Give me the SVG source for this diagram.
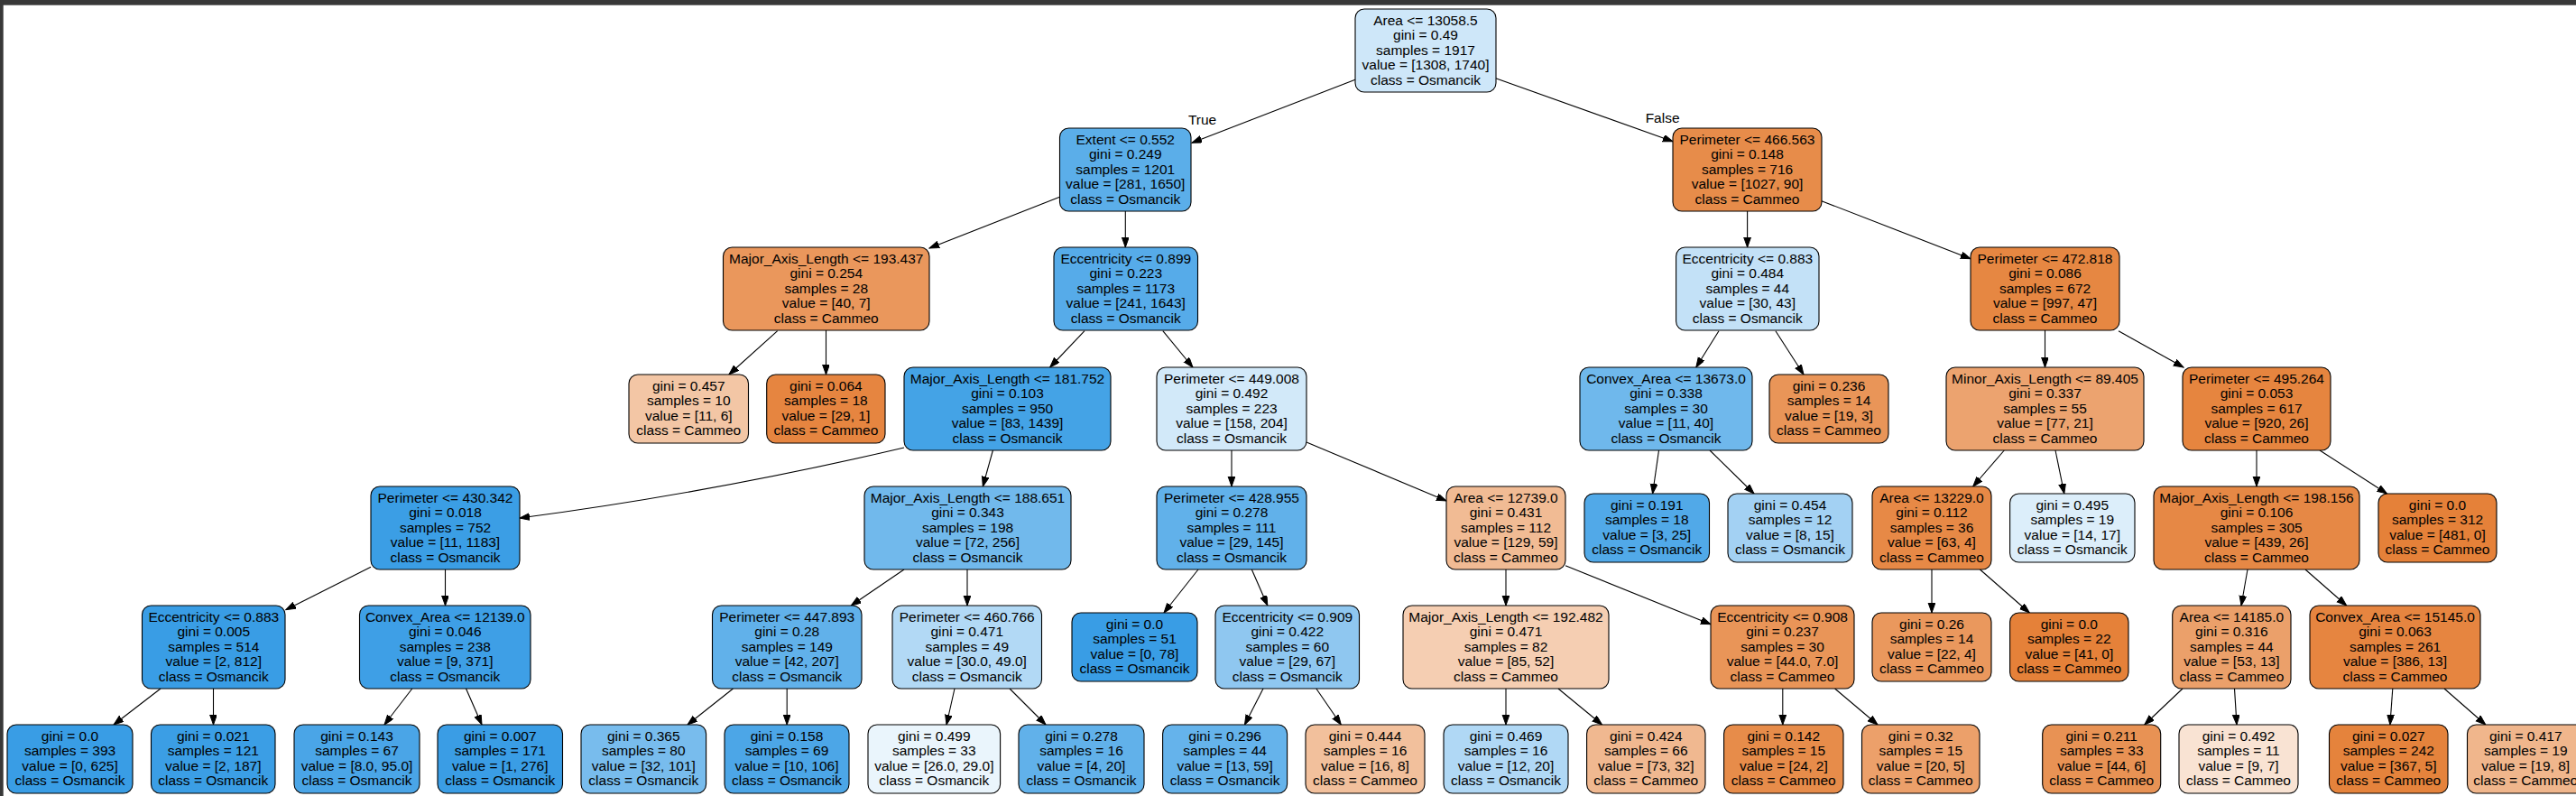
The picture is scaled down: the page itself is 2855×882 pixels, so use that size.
<svg xmlns="http://www.w3.org/2000/svg" width="2855" height="882" viewBox="0 0 2855 882">
<defs>
<style>
.nd rect{stroke:#000;stroke-width:1.1}
text{font-family:"Liberation Sans",Arial,sans-serif;font-size:15.5px;text-anchor:middle;fill:#000}
.ed path{fill:none;stroke:#000;stroke-width:1.1;marker-end:url(#ah)}
</style>
<marker id="ah" markerUnits="userSpaceOnUse" markerWidth="12" markerHeight="9" refX="11" refY="3.9" orient="auto"><path d="M0,0 L11,3.9 L0,7.8 z" fill="#000" stroke="#000" stroke-width="1"/></marker>
</defs>
<rect x="0" y="0" width="2855" height="882" fill="#fff"/>
<rect x="0" y="0" width="2855" height="5.7" fill="#383838"/>
<rect x="0" y="0" width="3.7" height="882" fill="#383838"/>
<g id="connectors" class="ed">
<path d="M1502,88.3 L1321,158.3"/>
<path d="M1657.7,86.7 L1854,156.7"/>
<path d="M1174.5,218.3 L1030,275"/>
<path d="M1247.3,234 L1247.3,274"/>
<path d="M861.7,366.7 L807.9,415"/>
<path d="M915.5,366 L915.5,415"/>
<path d="M1202,366.7 L1163.7,407"/>
<path d="M1288.8,366.7 L1322,407"/>
<path d="M1936.6,234 L1936.6,274"/>
<path d="M2018.9,222.7 L2184,286.7"/>
<path d="M1905,366.7 L1879.8,407"/>
<path d="M1967.9,366.7 L1999,415"/>
<path d="M2266.5,366 L2266.5,407"/>
<path d="M2348,366.7 L2420,407"/>
<path d="M1002,496 Q789,546 576,574"/>
<path d="M1100.4,499 L1089.3,539"/>
<path d="M1365,499 L1365,539"/>
<path d="M1448,490 L1603,555"/>
<path d="M1838.5,499 L1831.6,547"/>
<path d="M1895,499 L1944,547"/>
<path d="M2221.3,499 L2186.7,539"/>
<path d="M2278,499 L2287.8,547"/>
<path d="M2501,499 L2501,539"/>
<path d="M2571,499 L2645.5,547"/>
<path d="M411,628.3 L316.8,675.7"/>
<path d="M493.5,631 L493.5,671"/>
<path d="M1002,631 L943.3,671"/>
<path d="M1072,631 L1072,671"/>
<path d="M1328,631 L1290,679"/>
<path d="M1387.3,631 L1404.8,671"/>
<path d="M1669,631 L1669,671"/>
<path d="M1735,626.7 L1896,691.7"/>
<path d="M2141,631 L2141,679"/>
<path d="M2194.4,631 L2249.3,679"/>
<path d="M2491,631 L2484,671"/>
<path d="M2555,631 L2600.7,671"/>
<path d="M178,763 L126,803"/>
<path d="M236.5,763 L236.5,803"/>
<path d="M456.8,763 L426,803"/>
<path d="M516.5,763 L534,803"/>
<path d="M812.5,763 L762,803"/>
<path d="M872.2,763 L872.2,803"/>
<path d="M1058,763 L1049,803"/>
<path d="M1119,763 L1159,803"/>
<path d="M1400,763 L1379.5,803"/>
<path d="M1458.8,763 L1486.3,803"/>
<path d="M1669,763 L1669,803"/>
<path d="M1727,763 L1775.6,803"/>
<path d="M1975.8,763 L1975.8,803"/>
<path d="M2033.6,763 L2081,803"/>
<path d="M2419,763 L2376.8,803"/>
<path d="M2476.5,763 L2479,803"/>
<path d="M2651.8,763 L2648.9,803"/>
<path d="M2709,763 L2754.8,803"/>
<text x="1332.6" y="138">True</text>
<text x="1842.6" y="136">False</text>
</g>
<g id="n0" class="nd"><rect x="1502" y="10" width="156" height="92" rx="10" fill="#cee7f9"/><text x="1580" y="27.5"><tspan x="1580">Area &lt;= 13058.5</tspan><tspan x="1580" dy="16.6">gini = 0.49</tspan><tspan x="1580" dy="16.6">samples = 1917</tspan><tspan x="1580" dy="16.6">value = [1308, 1740]</tspan><tspan x="1580" dy="16.6">class = Osmancik</tspan></text></g>
<g id="n1" class="nd"><rect x="1174.5" y="142" width="145.5" height="92" rx="10" fill="#5baee9"/><text x="1247.25" y="159.5"><tspan x="1247.25">Extent &lt;= 0.552</tspan><tspan x="1247.25" dy="16.6">gini = 0.249</tspan><tspan x="1247.25" dy="16.6">samples = 1201</tspan><tspan x="1247.25" dy="16.6">value = [281, 1650]</tspan><tspan x="1247.25" dy="16.6">class = Osmancik</tspan></text></g>
<g id="n34" class="nd"><rect x="1854" y="142" width="165" height="92" rx="10" fill="#e78c4a"/><text x="1936.5" y="159.5"><tspan x="1936.5">Perimeter &lt;= 466.563</tspan><tspan x="1936.5" dy="16.6">gini = 0.148</tspan><tspan x="1936.5" dy="16.6">samples = 716</tspan><tspan x="1936.5" dy="16.6">value = [1027, 90]</tspan><tspan x="1936.5" dy="16.6">class = Cammeo</tspan></text></g>
<g id="n2" class="nd"><rect x="801.5" y="274" width="228.5" height="92" rx="10" fill="#ea975c"/><text x="915.75" y="291.5"><tspan x="915.75">Major_Axis_Length &lt;= 193.437</tspan><tspan x="915.75" dy="16.6">gini = 0.254</tspan><tspan x="915.75" dy="16.6">samples = 28</tspan><tspan x="915.75" dy="16.6">value = [40, 7]</tspan><tspan x="915.75" dy="16.6">class = Cammeo</tspan></text></g>
<g id="n5" class="nd"><rect x="1168" y="274" width="159.5" height="92" rx="10" fill="#56abe9"/><text x="1247.75" y="291.5"><tspan x="1247.75">Eccentricity &lt;= 0.899</tspan><tspan x="1247.75" dy="16.6">gini = 0.223</tspan><tspan x="1247.75" dy="16.6">samples = 1173</tspan><tspan x="1247.75" dy="16.6">value = [241, 1643]</tspan><tspan x="1247.75" dy="16.6">class = Osmancik</tspan></text></g>
<g id="n35" class="nd"><rect x="1857.6" y="274" width="158.4" height="92" rx="10" fill="#c3e1f7"/><text x="1936.8" y="291.5"><tspan x="1936.8">Eccentricity &lt;= 0.883</tspan><tspan x="1936.8" dy="16.6">gini = 0.484</tspan><tspan x="1936.8" dy="16.6">samples = 44</tspan><tspan x="1936.8" dy="16.6">value = [30, 43]</tspan><tspan x="1936.8" dy="16.6">class = Osmancik</tspan></text></g>
<g id="n40" class="nd"><rect x="2184" y="274" width="165" height="92" rx="10" fill="#e68742"/><text x="2266.5" y="291.5"><tspan x="2266.5">Perimeter &lt;= 472.818</tspan><tspan x="2266.5" dy="16.6">gini = 0.086</tspan><tspan x="2266.5" dy="16.6">samples = 672</tspan><tspan x="2266.5" dy="16.6">value = [997, 47]</tspan><tspan x="2266.5" dy="16.6">class = Cammeo</tspan></text></g>
<g id="n3" class="nd"><rect x="697" y="415" width="132.5" height="76" rx="10" fill="#f3c6a5"/><text x="763.25" y="432.5"><tspan x="763.25">gini = 0.457</tspan><tspan x="763.25" dy="16.6">samples = 10</tspan><tspan x="763.25" dy="16.6">value = [11, 6]</tspan><tspan x="763.25" dy="16.6">class = Cammeo</tspan></text></g>
<g id="n4" class="nd"><rect x="849.7" y="415" width="131.3" height="76" rx="10" fill="#e68540"/><text x="915.35" y="432.5"><tspan x="915.35">gini = 0.064</tspan><tspan x="915.35" dy="16.6">samples = 18</tspan><tspan x="915.35" dy="16.6">value = [29, 1]</tspan><tspan x="915.35" dy="16.6">class = Cammeo</tspan></text></g>
<g id="n6" class="nd"><rect x="1002" y="407" width="229" height="92" rx="10" fill="#44a3e6"/><text x="1116.5" y="424.5"><tspan x="1116.5">Major_Axis_Length &lt;= 181.752</tspan><tspan x="1116.5" dy="16.6">gini = 0.103</tspan><tspan x="1116.5" dy="16.6">samples = 950</tspan><tspan x="1116.5" dy="16.6">value = [83, 1439]</tspan><tspan x="1116.5" dy="16.6">class = Osmancik</tspan></text></g>
<g id="n21" class="nd"><rect x="1282" y="407" width="166" height="92" rx="10" fill="#d2e9f9"/><text x="1365" y="424.5"><tspan x="1365">Perimeter &lt;= 449.008</tspan><tspan x="1365" dy="16.6">gini = 0.492</tspan><tspan x="1365" dy="16.6">samples = 223</tspan><tspan x="1365" dy="16.6">value = [158, 204]</tspan><tspan x="1365" dy="16.6">class = Osmancik</tspan></text></g>
<g id="n36" class="nd"><rect x="1751" y="407" width="191" height="92" rx="10" fill="#6fb8ec"/><text x="1846.5" y="424.5"><tspan x="1846.5">Convex_Area &lt;= 13673.0</tspan><tspan x="1846.5" dy="16.6">gini = 0.338</tspan><tspan x="1846.5" dy="16.6">samples = 30</tspan><tspan x="1846.5" dy="16.6">value = [11, 40]</tspan><tspan x="1846.5" dy="16.6">class = Osmancik</tspan></text></g>
<g id="n39" class="nd"><rect x="1961" y="415" width="132" height="76" rx="10" fill="#e99558"/><text x="2027" y="432.5"><tspan x="2027">gini = 0.236</tspan><tspan x="2027" dy="16.6">samples = 14</tspan><tspan x="2027" dy="16.6">value = [19, 3]</tspan><tspan x="2027" dy="16.6">class = Cammeo</tspan></text></g>
<g id="n41" class="nd"><rect x="2157" y="407" width="219" height="92" rx="10" fill="#eca36f"/><text x="2266.5" y="424.5"><tspan x="2266.5">Minor_Axis_Length &lt;= 89.405</tspan><tspan x="2266.5" dy="16.6">gini = 0.337</tspan><tspan x="2266.5" dy="16.6">samples = 55</tspan><tspan x="2266.5" dy="16.6">value = [77, 21]</tspan><tspan x="2266.5" dy="16.6">class = Cammeo</tspan></text></g>
<g id="n46" class="nd"><rect x="2419" y="407" width="164" height="92" rx="10" fill="#e6853f"/><text x="2501" y="424.5"><tspan x="2501">Perimeter &lt;= 495.264</tspan><tspan x="2501" dy="16.6">gini = 0.053</tspan><tspan x="2501" dy="16.6">samples = 617</tspan><tspan x="2501" dy="16.6">value = [920, 26]</tspan><tspan x="2501" dy="16.6">class = Cammeo</tspan></text></g>
<g id="n7" class="nd"><rect x="411" y="539" width="165" height="92" rx="10" fill="#3b9ee5"/><text x="493.5" y="556.5"><tspan x="493.5">Perimeter &lt;= 430.342</tspan><tspan x="493.5" dy="16.6">gini = 0.018</tspan><tspan x="493.5" dy="16.6">samples = 752</tspan><tspan x="493.5" dy="16.6">value = [11, 1183]</tspan><tspan x="493.5" dy="16.6">class = Osmancik</tspan></text></g>
<g id="n14" class="nd"><rect x="958" y="539" width="229" height="92" rx="10" fill="#71b9ec"/><text x="1072.5" y="556.5"><tspan x="1072.5">Major_Axis_Length &lt;= 188.651</tspan><tspan x="1072.5" dy="16.6">gini = 0.343</tspan><tspan x="1072.5" dy="16.6">samples = 198</tspan><tspan x="1072.5" dy="16.6">value = [72, 256]</tspan><tspan x="1072.5" dy="16.6">class = Osmancik</tspan></text></g>
<g id="n22" class="nd"><rect x="1282" y="539" width="166" height="92" rx="10" fill="#61b1ea"/><text x="1365" y="556.5"><tspan x="1365">Perimeter &lt;= 428.955</tspan><tspan x="1365" dy="16.6">gini = 0.278</tspan><tspan x="1365" dy="16.6">samples = 111</tspan><tspan x="1365" dy="16.6">value = [29, 145]</tspan><tspan x="1365" dy="16.6">class = Osmancik</tspan></text></g>
<g id="n27" class="nd"><rect x="1603" y="539" width="132" height="92" rx="10" fill="#f1bb94"/><text x="1669" y="556.5"><tspan x="1669">Area &lt;= 12739.0</tspan><tspan x="1669" dy="16.6">gini = 0.431</tspan><tspan x="1669" dy="16.6">samples = 112</tspan><tspan x="1669" dy="16.6">value = [129, 59]</tspan><tspan x="1669" dy="16.6">class = Cammeo</tspan></text></g>
<g id="n37" class="nd"><rect x="1756" y="547" width="138.5" height="76" rx="10" fill="#51a9e8"/><text x="1825.25" y="564.5"><tspan x="1825.25">gini = 0.191</tspan><tspan x="1825.25" dy="16.6">samples = 18</tspan><tspan x="1825.25" dy="16.6">value = [3, 25]</tspan><tspan x="1825.25" dy="16.6">class = Osmancik</tspan></text></g>
<g id="n38" class="nd"><rect x="1915" y="547" width="138" height="76" rx="10" fill="#a3d1f3"/><text x="1984" y="564.5"><tspan x="1984">gini = 0.454</tspan><tspan x="1984" dy="16.6">samples = 12</tspan><tspan x="1984" dy="16.6">value = [8, 15]</tspan><tspan x="1984" dy="16.6">class = Osmancik</tspan></text></g>
<g id="n42" class="nd"><rect x="2075" y="539" width="132" height="92" rx="10" fill="#e78946"/><text x="2141" y="556.5"><tspan x="2141">Area &lt;= 13229.0</tspan><tspan x="2141" dy="16.6">gini = 0.112</tspan><tspan x="2141" dy="16.6">samples = 36</tspan><tspan x="2141" dy="16.6">value = [63, 4]</tspan><tspan x="2141" dy="16.6">class = Cammeo</tspan></text></g>
<g id="n45" class="nd"><rect x="2227.6" y="547" width="138.4" height="76" rx="10" fill="#dceefa"/><text x="2296.8" y="564.5"><tspan x="2296.8">gini = 0.495</tspan><tspan x="2296.8" dy="16.6">samples = 19</tspan><tspan x="2296.8" dy="16.6">value = [14, 17]</tspan><tspan x="2296.8" dy="16.6">class = Osmancik</tspan></text></g>
<g id="n47" class="nd"><rect x="2387" y="539" width="228" height="92" rx="10" fill="#e68845"/><text x="2501" y="556.5"><tspan x="2501">Major_Axis_Length &lt;= 198.156</tspan><tspan x="2501" dy="16.6">gini = 0.106</tspan><tspan x="2501" dy="16.6">samples = 305</tspan><tspan x="2501" dy="16.6">value = [439, 26]</tspan><tspan x="2501" dy="16.6">class = Cammeo</tspan></text></g>
<g id="n54" class="nd"><rect x="2636" y="547" width="131" height="76" rx="10" fill="#e58139"/><text x="2701.5" y="564.5"><tspan x="2701.5">gini = 0.0</tspan><tspan x="2701.5" dy="16.6">samples = 312</tspan><tspan x="2701.5" dy="16.6">value = [481, 0]</tspan><tspan x="2701.5" dy="16.6">class = Cammeo</tspan></text></g>
<g id="n8" class="nd"><rect x="157.5" y="671" width="158.5" height="92" rx="10" fill="#399de5"/><text x="236.75" y="688.5"><tspan x="236.75">Eccentricity &lt;= 0.883</tspan><tspan x="236.75" dy="16.6">gini = 0.005</tspan><tspan x="236.75" dy="16.6">samples = 514</tspan><tspan x="236.75" dy="16.6">value = [2, 812]</tspan><tspan x="236.75" dy="16.6">class = Osmancik</tspan></text></g>
<g id="n11" class="nd"><rect x="398.5" y="671" width="189.5" height="92" rx="10" fill="#3e9fe6"/><text x="493.25" y="688.5"><tspan x="493.25">Convex_Area &lt;= 12139.0</tspan><tspan x="493.25" dy="16.6">gini = 0.046</tspan><tspan x="493.25" dy="16.6">samples = 238</tspan><tspan x="493.25" dy="16.6">value = [9, 371]</tspan><tspan x="493.25" dy="16.6">class = Osmancik</tspan></text></g>
<g id="n15" class="nd"><rect x="789.5" y="671" width="165.5" height="92" rx="10" fill="#61b1ea"/><text x="872.25" y="688.5"><tspan x="872.25">Perimeter &lt;= 447.893</tspan><tspan x="872.25" dy="16.6">gini = 0.28</tspan><tspan x="872.25" dy="16.6">samples = 149</tspan><tspan x="872.25" dy="16.6">value = [42, 207]</tspan><tspan x="872.25" dy="16.6">class = Osmancik</tspan></text></g>
<g id="n18" class="nd"><rect x="989" y="671" width="165.5" height="92" rx="10" fill="#b2d9f5"/><text x="1071.75" y="688.5"><tspan x="1071.75">Perimeter &lt;= 460.766</tspan><tspan x="1071.75" dy="16.6">gini = 0.471</tspan><tspan x="1071.75" dy="16.6">samples = 49</tspan><tspan x="1071.75" dy="16.6">value = [30.0, 49.0]</tspan><tspan x="1071.75" dy="16.6">class = Osmancik</tspan></text></g>
<g id="n23" class="nd"><rect x="1188" y="679" width="139" height="76" rx="10" fill="#399de5"/><text x="1257.5" y="696.5"><tspan x="1257.5">gini = 0.0</tspan><tspan x="1257.5" dy="16.6">samples = 51</tspan><tspan x="1257.5" dy="16.6">value = [0, 78]</tspan><tspan x="1257.5" dy="16.6">class = Osmancik</tspan></text></g>
<g id="n24" class="nd"><rect x="1347" y="671" width="159.5" height="92" rx="10" fill="#8fc7f0"/><text x="1426.75" y="688.5"><tspan x="1426.75">Eccentricity &lt;= 0.909</tspan><tspan x="1426.75" dy="16.6">gini = 0.422</tspan><tspan x="1426.75" dy="16.6">samples = 60</tspan><tspan x="1426.75" dy="16.6">value = [29, 67]</tspan><tspan x="1426.75" dy="16.6">class = Osmancik</tspan></text></g>
<g id="n28" class="nd"><rect x="1555" y="671" width="228" height="92" rx="10" fill="#f5ceb2"/><text x="1669" y="688.5"><tspan x="1669">Major_Axis_Length &lt;= 192.482</tspan><tspan x="1669" dy="16.6">gini = 0.471</tspan><tspan x="1669" dy="16.6">samples = 82</tspan><tspan x="1669" dy="16.6">value = [85, 52]</tspan><tspan x="1669" dy="16.6">class = Cammeo</tspan></text></g>
<g id="n31" class="nd"><rect x="1896" y="671" width="159" height="92" rx="10" fill="#e99558"/><text x="1975.5" y="688.5"><tspan x="1975.5">Eccentricity &lt;= 0.908</tspan><tspan x="1975.5" dy="16.6">gini = 0.237</tspan><tspan x="1975.5" dy="16.6">samples = 30</tspan><tspan x="1975.5" dy="16.6">value = [44.0, 7.0]</tspan><tspan x="1975.5" dy="16.6">class = Cammeo</tspan></text></g>
<g id="n43" class="nd"><rect x="2075" y="679" width="132" height="76" rx="10" fill="#ea985d"/><text x="2141" y="696.5"><tspan x="2141">gini = 0.26</tspan><tspan x="2141" dy="16.6">samples = 14</tspan><tspan x="2141" dy="16.6">value = [22, 4]</tspan><tspan x="2141" dy="16.6">class = Cammeo</tspan></text></g>
<g id="n44" class="nd"><rect x="2227.6" y="679" width="131.4" height="76" rx="10" fill="#e58139"/><text x="2293.3" y="696.5"><tspan x="2293.3">gini = 0.0</tspan><tspan x="2293.3" dy="16.6">samples = 22</tspan><tspan x="2293.3" dy="16.6">value = [41, 0]</tspan><tspan x="2293.3" dy="16.6">class = Cammeo</tspan></text></g>
<g id="n48" class="nd"><rect x="2407.7" y="671" width="131.3" height="92" rx="10" fill="#eba06a"/><text x="2473.35" y="688.5"><tspan x="2473.35">Area &lt;= 14185.0</tspan><tspan x="2473.35" dy="16.6">gini = 0.316</tspan><tspan x="2473.35" dy="16.6">samples = 44</tspan><tspan x="2473.35" dy="16.6">value = [53, 13]</tspan><tspan x="2473.35" dy="16.6">class = Cammeo</tspan></text></g>
<g id="n51" class="nd"><rect x="2560" y="671" width="189" height="92" rx="10" fill="#e68540"/><text x="2654.5" y="688.5"><tspan x="2654.5">Convex_Area &lt;= 15145.0</tspan><tspan x="2654.5" dy="16.6">gini = 0.063</tspan><tspan x="2654.5" dy="16.6">samples = 261</tspan><tspan x="2654.5" dy="16.6">value = [386, 13]</tspan><tspan x="2654.5" dy="16.6">class = Cammeo</tspan></text></g>
<g id="n9" class="nd"><rect x="8" y="803" width="139" height="76" rx="10" fill="#399de5"/><text x="77.5" y="820.5"><tspan x="77.5">gini = 0.0</tspan><tspan x="77.5" dy="16.6">samples = 393</tspan><tspan x="77.5" dy="16.6">value = [0, 625]</tspan><tspan x="77.5" dy="16.6">class = Osmancik</tspan></text></g>
<g id="n10" class="nd"><rect x="167.5" y="803" width="137.5" height="76" rx="10" fill="#3b9ee5"/><text x="236.25" y="820.5"><tspan x="236.25">gini = 0.021</tspan><tspan x="236.25" dy="16.6">samples = 121</tspan><tspan x="236.25" dy="16.6">value = [2, 187]</tspan><tspan x="236.25" dy="16.6">class = Osmancik</tspan></text></g>
<g id="n12" class="nd"><rect x="326" y="803" width="139" height="76" rx="10" fill="#4aa5e7"/><text x="395.5" y="820.5"><tspan x="395.5">gini = 0.143</tspan><tspan x="395.5" dy="16.6">samples = 67</tspan><tspan x="395.5" dy="16.6">value = [8.0, 95.0]</tspan><tspan x="395.5" dy="16.6">class = Osmancik</tspan></text></g>
<g id="n13" class="nd"><rect x="485" y="803" width="138.5" height="76" rx="10" fill="#3a9de5"/><text x="554.25" y="820.5"><tspan x="554.25">gini = 0.007</tspan><tspan x="554.25" dy="16.6">samples = 171</tspan><tspan x="554.25" dy="16.6">value = [1, 276]</tspan><tspan x="554.25" dy="16.6">class = Osmancik</tspan></text></g>
<g id="n16" class="nd"><rect x="644" y="803" width="138.6" height="76" rx="10" fill="#78bced"/><text x="713.3" y="820.5"><tspan x="713.3">gini = 0.365</tspan><tspan x="713.3" dy="16.6">samples = 80</tspan><tspan x="713.3" dy="16.6">value = [32, 101]</tspan><tspan x="713.3" dy="16.6">class = Osmancik</tspan></text></g>
<g id="n17" class="nd"><rect x="803" y="803" width="138" height="76" rx="10" fill="#4ca6e7"/><text x="872" y="820.5"><tspan x="872">gini = 0.158</tspan><tspan x="872" dy="16.6">samples = 69</tspan><tspan x="872" dy="16.6">value = [10, 106]</tspan><tspan x="872" dy="16.6">class = Osmancik</tspan></text></g>
<g id="n19" class="nd"><rect x="962" y="803" width="146.6" height="76" rx="10" fill="#eaf5fc"/><text x="1035.3" y="820.5"><tspan x="1035.3">gini = 0.499</tspan><tspan x="1035.3" dy="16.6">samples = 33</tspan><tspan x="1035.3" dy="16.6">value = [26.0, 29.0]</tspan><tspan x="1035.3" dy="16.6">class = Osmancik</tspan></text></g>
<g id="n20" class="nd"><rect x="1129" y="803" width="139" height="76" rx="10" fill="#61b1ea"/><text x="1198.5" y="820.5"><tspan x="1198.5">gini = 0.278</tspan><tspan x="1198.5" dy="16.6">samples = 16</tspan><tspan x="1198.5" dy="16.6">value = [4, 20]</tspan><tspan x="1198.5" dy="16.6">class = Osmancik</tspan></text></g>
<g id="n25" class="nd"><rect x="1288.6" y="803" width="138" height="76" rx="10" fill="#65b3eb"/><text x="1357.6" y="820.5"><tspan x="1357.6">gini = 0.296</tspan><tspan x="1357.6" dy="16.6">samples = 44</tspan><tspan x="1357.6" dy="16.6">value = [13, 59]</tspan><tspan x="1357.6" dy="16.6">class = Osmancik</tspan></text></g>
<g id="n26" class="nd"><rect x="1447" y="803" width="132" height="76" rx="10" fill="#f2c09c"/><text x="1513" y="820.5"><tspan x="1513">gini = 0.444</tspan><tspan x="1513" dy="16.6">samples = 16</tspan><tspan x="1513" dy="16.6">value = [16, 8]</tspan><tspan x="1513" dy="16.6">class = Cammeo</tspan></text></g>
<g id="n29" class="nd"><rect x="1600" y="803" width="138" height="76" rx="10" fill="#b0d8f5"/><text x="1669" y="820.5"><tspan x="1669">gini = 0.469</tspan><tspan x="1669" dy="16.6">samples = 16</tspan><tspan x="1669" dy="16.6">value = [12, 20]</tspan><tspan x="1669" dy="16.6">class = Osmancik</tspan></text></g>
<g id="n30" class="nd"><rect x="1758.6" y="803" width="131.4" height="76" rx="10" fill="#f0b890"/><text x="1824.3" y="820.5"><tspan x="1824.3">gini = 0.424</tspan><tspan x="1824.3" dy="16.6">samples = 66</tspan><tspan x="1824.3" dy="16.6">value = [73, 32]</tspan><tspan x="1824.3" dy="16.6">class = Cammeo</tspan></text></g>
<g id="n32" class="nd"><rect x="1910.6" y="803" width="132.4" height="76" rx="10" fill="#e78c4a"/><text x="1976.8" y="820.5"><tspan x="1976.8">gini = 0.142</tspan><tspan x="1976.8" dy="16.6">samples = 15</tspan><tspan x="1976.8" dy="16.6">value = [24, 2]</tspan><tspan x="1976.8" dy="16.6">class = Cammeo</tspan></text></g>
<g id="n33" class="nd"><rect x="2063.5" y="803" width="130.5" height="76" rx="10" fill="#eca06a"/><text x="2128.75" y="820.5"><tspan x="2128.75">gini = 0.32</tspan><tspan x="2128.75" dy="16.6">samples = 15</tspan><tspan x="2128.75" dy="16.6">value = [20, 5]</tspan><tspan x="2128.75" dy="16.6">class = Cammeo</tspan></text></g>
<g id="n49" class="nd"><rect x="2263.7" y="803" width="131" height="76" rx="10" fill="#e89254"/><text x="2329.2" y="820.5"><tspan x="2329.2">gini = 0.211</tspan><tspan x="2329.2" dy="16.6">samples = 33</tspan><tspan x="2329.2" dy="16.6">value = [44, 6]</tspan><tspan x="2329.2" dy="16.6">class = Cammeo</tspan></text></g>
<g id="n50" class="nd"><rect x="2415" y="803" width="132" height="76" rx="10" fill="#f9e3d3"/><text x="2481" y="820.5"><tspan x="2481">gini = 0.492</tspan><tspan x="2481" dy="16.6">samples = 11</tspan><tspan x="2481" dy="16.6">value = [9, 7]</tspan><tspan x="2481" dy="16.6">class = Cammeo</tspan></text></g>
<g id="n52" class="nd"><rect x="2581.5" y="803" width="131.5" height="76" rx="10" fill="#e5833c"/><text x="2647.25" y="820.5"><tspan x="2647.25">gini = 0.027</tspan><tspan x="2647.25" dy="16.6">samples = 242</tspan><tspan x="2647.25" dy="16.6">value = [367, 5]</tspan><tspan x="2647.25" dy="16.6">class = Cammeo</tspan></text></g>
<g id="n53" class="nd"><rect x="2734.5" y="803" width="129.5" height="76" rx="10" fill="#f0b68c"/><text x="2799.25" y="820.5"><tspan x="2799.25">gini = 0.417</tspan><tspan x="2799.25" dy="16.6">samples = 19</tspan><tspan x="2799.25" dy="16.6">value = [19, 8]</tspan><tspan x="2799.25" dy="16.6">class = Cammeo</tspan></text></g>
</svg>
